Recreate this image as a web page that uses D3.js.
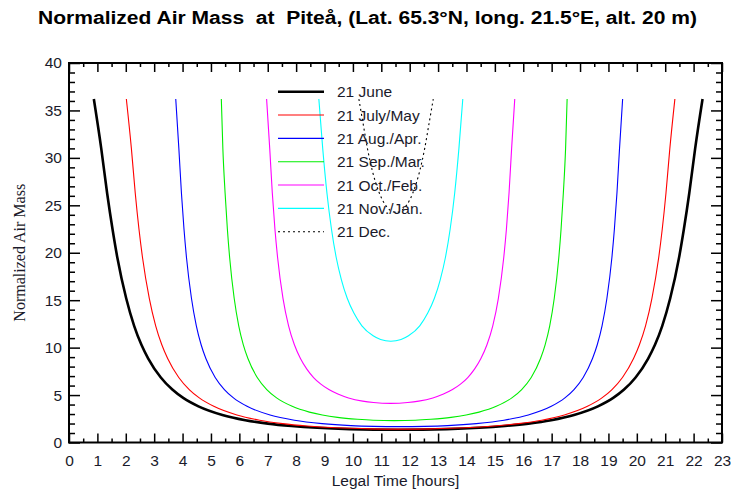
<!DOCTYPE html>
<html>
<head>
<meta charset="utf-8">
<script src="https://cdn.jsdelivr.net/npm/d3@7"></script>
<style>
  html, body { margin: 0; padding: 0; background: #fff; }
  svg { display: block; }
</style>
</head>
<body>
<svg id="chart" width="731" height="494"></svg>
<script>
// ---------- DATA ----------
const chartTitle = "Normalized Air Mass  at  Piteå, (Lat. 65.3°N, long. 21.5°E, alt. 20 m)";
const xLabel = "Legal Time [hours]";
const yLabel = "Normalized Air Mass";

const xTickValues = [0,1,2,3,4,5,6,7,8,9,10,11,12,13,14,15,16,17,18,19,20,21,22,23];
const yTickValues = [0,5,10,15,20,25,30,35,40];

const seriesNames = ["21 June", "21 July/May", "21 Aug./Apr.", "21 Sep./Mar.", "21 Oct./Feb.", "21 Nov./Jan.", "21 Dec."];

const juneHours = [0.875,1.135,1.342,1.532,1.702,2.014,2.294,2.551,2.791,3.234,3.640,4.022,4.560,5.402,6.208,7.008,7.836,8.744,9.888,11.595,13.302,14.446,15.354,16.182,16.982,17.788,18.630,19.168,19.550,19.956,20.399,20.639,20.896,21.176,21.488,21.658,21.848,22.055,22.315];
const juneAM    = [36.2,31.0,26.3,22.5,19.5,15.2,12.3,10.3,8.85,6.85,5.58,4.70,3.81,2.90,2.35,1.99,1.74,1.55,1.41,1.34,1.41,1.55,1.74,1.99,2.35,2.90,3.81,4.70,5.58,6.85,8.85,10.3,12.3,15.2,19.5,22.5,26.3,31.0,36.2];

const julyHours = [2.020,2.197,2.333,2.464,2.589,2.828,3.053,3.269,3.475,3.866,4.235,4.589,5.099,5.913,6.712,7.525,8.395,9.416,10.623,11.680,12.737,13.944,14.965,15.835,16.648,17.447,18.261,18.771,19.125,19.494,19.885,20.091,20.307,20.532,20.771,20.896,21.027,21.163,21.340];
const julyAM    = [36.2,31.0,26.3,22.5,19.5,15.2,12.3,10.3,8.85,6.85,5.58,4.70,3.81,2.90,2.35,1.99,1.74,1.55,1.44,1.41,1.44,1.55,1.74,1.99,2.35,2.90,3.81,4.70,5.58,6.85,8.85,10.3,12.3,15.2,19.5,22.5,26.3,31.0,36.2];

const augHours = [3.760,3.869,3.960,4.050,4.138,4.313,4.485,4.654,4.821,5.149,5.473,5.793,6.272,7.082,7.939,8.913,9.931,10.732,11.630,12.528,13.329,14.347,15.321,16.178,16.988,17.467,17.787,18.111,18.439,18.606,18.775,18.947,19.122,19.210,19.300,19.391,19.500];
const augAM    = [36.2,31.0,26.3,22.5,19.5,15.2,12.3,10.3,8.85,6.85,5.58,4.70,3.81,2.90,2.35,1.99,1.78,1.70,1.67,1.70,1.78,1.99,2.35,2.90,3.81,4.70,5.58,6.85,8.85,10.3,12.3,15.2,19.5,22.5,26.3,31.0,36.2];

const sepHours = [5.365,5.419,5.498,5.578,5.658,5.818,5.978,6.140,6.302,6.630,6.966,7.312,7.861,8.466,8.923,9.456,10.161,10.714,11.455,12.196,12.749,13.454,13.987,14.444,15.049,15.598,15.944,16.280,16.608,16.770,16.932,17.092,17.252,17.332,17.412,17.491,17.545];
const sepAM    = [36.2,31.0,26.3,22.5,19.5,15.2,12.3,10.3,8.85,6.85,5.58,4.70,3.81,3.20,2.90,2.65,2.45,2.35,2.31,2.35,2.45,2.65,2.90,3.20,3.81,4.70,5.58,6.85,8.85,10.3,12.3,15.2,19.5,22.5,26.3,31.0,36.2];

const octHours = [6.960,7.070,7.161,7.253,7.347,7.537,7.734,7.939,8.152,8.377,8.615,8.871,9.153,9.470,9.845,10.344,10.729,11.330,11.931,12.316,12.815,13.190,13.507,13.789,14.045,14.283,14.508,14.721,14.926,15.123,15.313,15.407,15.499,15.590,15.700];
const octAM    = [36.2,31.0,26.3,22.5,19.5,15.2,12.3,10.3,8.85,7.73,6.85,6.15,5.58,5.11,4.70,4.36,4.21,4.12,4.21,4.36,4.70,5.11,5.58,6.15,6.85,7.73,8.85,10.3,12.3,15.2,19.5,22.5,26.3,31.0,36.2];

const novHours = [8.800,8.936,9.085,9.244,9.412,9.595,9.800,10.034,10.316,10.712,10.975,11.335,11.695,11.958,12.354,12.636,12.870,13.075,13.258,13.426,13.585,13.734,13.870];
const novAM    = [36.2,31.0,26.3,22.5,19.5,17.15,15.2,13.64,12.3,11.25,10.86,10.67,10.86,11.25,12.3,13.64,15.2,17.15,19.5,22.5,26.3,31.0,36.2];

const decHours = [10.21,10.356,10.511,10.694,10.930,11.135,11.52,11.905,12.11,12.346,12.529,12.684,12.83];
const decAM    = [36.2,33.67,31.0,28.53,26.3,25.08,24.24,25.08,26.3,28.53,31.0,33.67,36.2];

// ---------- STYLES ----------
const seriesStyle = [
  {color: "#000000", width: 2.6, dash: null},
  {color: "#ff0000", width: 1.1, dash: null},
  {color: "#0000ff", width: 1.1, dash: null},
  {color: "#00ee00", width: 1.1, dash: null},
  {color: "#ff00ff", width: 1.1, dash: null},
  {color: "#00ffff", width: 1.1, dash: null},
  {color: "#000000", width: 1.1, dash: "2,3"}
];
const seriesHours = [juneHours, julyHours, augHours, sepHours, octHours, novHours, decHours];
const seriesAM = [juneAM, julyAM, augAM, sepAM, octAM, novAM, decAM];

// ---------- LAYOUT ----------
const svg = d3.select("#chart");
const plotLeft = 69, plotRight = 722, plotTop = 63, plotBottom = 442.5;

const x = d3.scaleLinear().domain([0, 23]).range([plotLeft, plotRight]);
const y = d3.scaleLinear().domain([0, 40]).range([plotBottom, plotTop]);

const sans = "'Liberation Sans', Arial, Helvetica, sans-serif";
const serif = "'Liberation Serif', 'Times New Roman', serif";
const textColor = "#1a1a2a";

// Title
svg.append("text")
  .attr("x", 38).attr("y", 24)
  .attr("font-family", sans).attr("font-weight", "bold").attr("font-size", 18)
  .attr("fill", "#000")
  .attr("textLength", 659).attr("lengthAdjust", "spacingAndGlyphs")
  .style("white-space", "pre")
  .text(chartTitle);

// Curves
const line = d3.line().x(d => x(d[0])).y(d => y(d[1])).curve(d3.curveMonotoneX);
seriesHours.forEach((hrs, i) => {
  const pts = hrs.map((h, k) => [h, seriesAM[i][k]]);
  const p = svg.append("path")
    .attr("d", line(pts))
    .attr("fill", "none")
    .attr("stroke", seriesStyle[i].color)
    .attr("stroke-width", seriesStyle[i].width)
    .attr("stroke-linejoin", "round");
  if (seriesStyle[i].dash) p.attr("stroke-dasharray", seriesStyle[i].dash);
});

// Axes (inward ticks)
const xMinor = d3.range(0, 23.01, 0.5).filter(v => v % 1 !== 0);
const yMinor = d3.range(0, 40.01, 1).filter(v => v % 5 !== 0);

function styleAxis(g) {
  g.select(".domain").remove();
  g.selectAll(".tick line").attr("stroke", "#000").attr("stroke-width", 1.5);
  g.selectAll(".tick text").attr("font-family", sans).attr("font-size", 15.5).attr("fill", textColor);
}

svg.append("g").attr("transform", `translate(0,${plotBottom})`)
  .call(d3.axisBottom(x).tickValues(xTickValues).tickSize(-9).tickPadding(12).tickFormat(d3.format("d")))
  .call(styleAxis);
svg.append("g").attr("transform", `translate(0,${plotBottom})`)
  .call(d3.axisBottom(x).tickValues(xMinor).tickSize(-4).tickFormat(""))
  .call(styleAxis);
svg.append("g").attr("transform", `translate(0,${plotTop})`)
  .call(d3.axisTop(x).tickValues(xTickValues).tickSize(-9).tickFormat(""))
  .call(styleAxis);
svg.append("g").attr("transform", `translate(0,${plotTop})`)
  .call(d3.axisTop(x).tickValues(xMinor).tickSize(-4).tickFormat(""))
  .call(styleAxis);

svg.append("g").attr("transform", `translate(${plotLeft},0)`)
  .call(d3.axisLeft(y).tickValues(yTickValues).tickSize(-11).tickPadding(7).tickFormat(d3.format("d")))
  .call(styleAxis);
svg.append("g").attr("transform", `translate(${plotLeft},0)`)
  .call(d3.axisLeft(y).tickValues(yMinor).tickSize(-6).tickFormat(""))
  .call(styleAxis);
svg.append("g").attr("transform", `translate(${plotRight},0)`)
  .call(d3.axisRight(y).tickValues(yTickValues).tickSize(-11).tickFormat(""))
  .call(styleAxis);
svg.append("g").attr("transform", `translate(${plotRight},0)`)
  .call(d3.axisRight(y).tickValues(yMinor).tickSize(-6).tickFormat(""))
  .call(styleAxis);

// Frame
svg.append("rect")
  .attr("x", plotLeft).attr("y", plotTop)
  .attr("width", plotRight - plotLeft).attr("height", plotBottom - plotTop)
  .attr("fill", "none").attr("stroke", "#000").attr("stroke-width", 2);

// Axis titles
svg.append("text")
  .attr("x", (plotLeft + plotRight) / 2).attr("y", 486)
  .attr("text-anchor", "middle")
  .attr("font-family", sans).attr("font-size", 15.5).attr("fill", textColor)
  .text(xLabel);

svg.append("text")
  .attr("transform", `translate(25,${(plotTop + plotBottom) / 2}) rotate(-90)`)
  .attr("text-anchor", "middle")
  .attr("font-family", serif).attr("font-size", 16).attr("fill", textColor)
  .text(yLabel);

// Legend
const legendX1 = 278, legendX2 = 324, legendTextX = 337, legendY0 = 91.7, legendDy = 23.33;
seriesNames.forEach((name, i) => {
  const yy = legendY0 + i * legendDy;
  const l = svg.append("line")
    .attr("x1", legendX1).attr("x2", legendX2)
    .attr("y1", yy).attr("y2", yy)
    .attr("stroke", seriesStyle[i].color)
    .attr("stroke-width", seriesStyle[i].width);
  if (seriesStyle[i].dash) l.attr("stroke-dasharray", seriesStyle[i].dash);
  svg.append("text")
    .attr("x", legendTextX).attr("y", yy)
    .attr("dy", "0.36em")
    .attr("font-family", sans).attr("font-size", 15.5).attr("fill", textColor)
    .text(name);
});
</script>
</body>
</html>
